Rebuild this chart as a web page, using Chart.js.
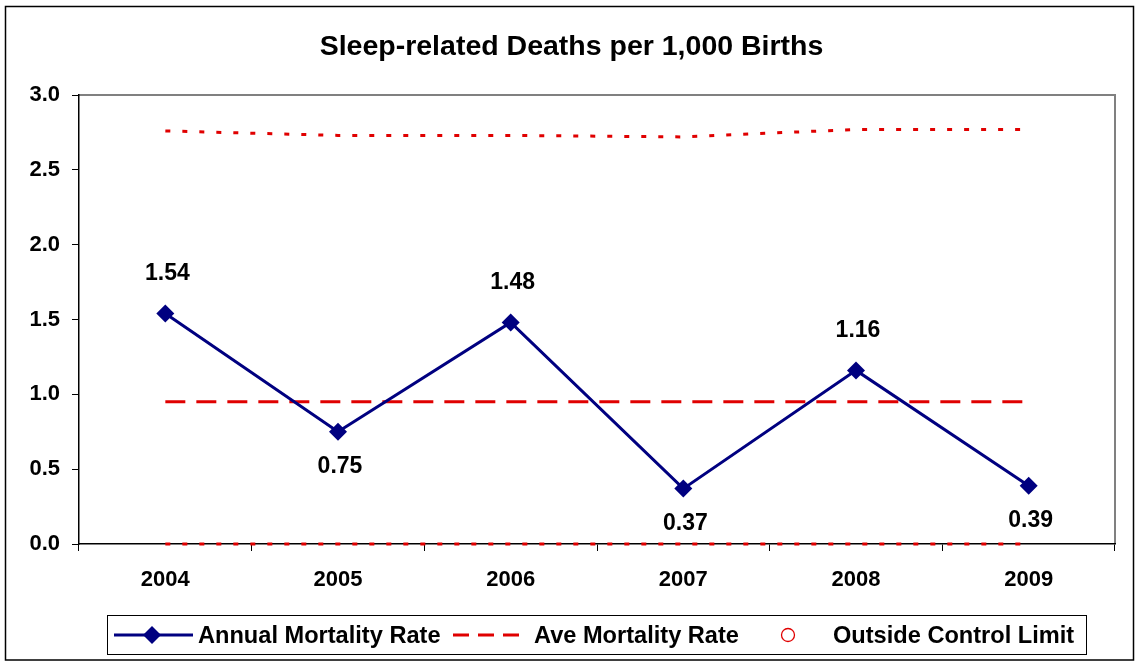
<!DOCTYPE html>
<html>
<head>
<meta charset="utf-8">
<script src="https://cdn.jsdelivr.net/npm/chart.js@4.4.1/dist/chart.umd.min.js"></script>
<style>
  html, body { margin: 0; padding: 0; background: #fff; }
  #wrap { width: 1135px; height: 665px; position: relative; }
</style>
</head>
<body>
<div id="wrap"><canvas id="c" width="1135" height="665"></canvas></div>
<script>
// ---- data ----
const years = ['2004', '2005', '2006', '2007', '2008', '2009'];
const annualRate = [1.54, 0.75, 1.48, 0.37, 1.16, 0.39];
const aveRate = [0.95, 0.95, 0.95, 0.95, 0.95, 0.95];
const upperLimit = [2.76, 2.73, 2.73, 2.72, 2.77, 2.77];
const lowerLimit = [0, 0, 0, 0, 0, 0];
const outsideLimit = [null, null, null, null, null, null];
const yMin = 0, yMax = 3.0, yStep = 0.5;
const titleText = 'Sleep-related Deaths per 1,000 Births';
const legendLabels = ['Annual Mortality Rate', 'Ave Mortality Rate', 'Outside Control Limit'];

const FONT = '"Liberation Sans", Arial, sans-serif';
const NAVY = '#000080';
const RED = '#E00000';

const decor = {
  id: 'decor',
  beforeDraw(chart) {
    const ctx = chart.ctx;
    ctx.save();
    ctx.fillStyle = '#fff';
    ctx.fillRect(0, 0, chart.width, chart.height);
    // outer border
    ctx.strokeStyle = '#000';
    ctx.lineWidth = 1.5;
    ctx.strokeRect(5.5, 6.5, 1128, 653.5);
    // title
    ctx.fillStyle = '#000';
    ctx.font = 'bold 28.5px ' + FONT;
    ctx.textAlign = 'center';
    ctx.textBaseline = 'middle';
    ctx.fillText(titleText, 571.5, 47);
    // plot area gray border (top & right)
    const a = chart.chartArea;
    ctx.strokeStyle = '#808080';
    ctx.lineWidth = 2;
    ctx.beginPath();
    ctx.moveTo(a.left, a.top);
    ctx.lineTo(a.right, a.top);
    ctx.lineTo(a.right, a.bottom);
    ctx.stroke();
    ctx.restore();
  },
  afterDraw(chart) {
    const ctx = chart.ctx;
    ctx.save();
    // data labels
    const meta = chart.getDatasetMeta(0);
    ctx.font = 'bold 23px ' + FONT;
    ctx.fillStyle = '#000';
    ctx.textAlign = 'center';
    ctx.textBaseline = 'middle';
    meta.data.forEach((pt, i) => {
      const v = annualRate[i];
      const above = v > aveRate[i];
      ctx.fillText(v.toFixed(2), pt.x + 2, above ? pt.y - 40 : pt.y + 35);
    });
    // legend
    const ly = 635;
    ctx.strokeStyle = '#000';
    ctx.lineWidth = 1;
    ctx.strokeRect(107.5, 615.5, 979, 39);
    // item 1
    ctx.strokeStyle = NAVY;
    ctx.lineWidth = 3;
    ctx.beginPath(); ctx.moveTo(114, ly); ctx.lineTo(193, ly); ctx.stroke();
    ctx.fillStyle = NAVY;
    ctx.beginPath();
    ctx.moveTo(152, ly - 9); ctx.lineTo(161, ly); ctx.lineTo(152, ly + 9); ctx.lineTo(143, ly);
    ctx.closePath(); ctx.fill();
    // item 2
    ctx.strokeStyle = RED;
    ctx.lineWidth = 3;
    ctx.setLineDash([16, 9]);
    ctx.beginPath(); ctx.moveTo(453, ly); ctx.lineTo(527, ly); ctx.stroke();
    ctx.setLineDash([]);
    // item 3
    ctx.lineWidth = 1.3;
    ctx.beginPath(); ctx.arc(788, ly, 6.5, 0, Math.PI * 2); ctx.stroke();
    // texts
    ctx.fillStyle = '#000';
    ctx.font = 'bold 23.6px ' + FONT;
    ctx.textAlign = 'left';
    ctx.textBaseline = 'middle';
    ctx.fillText(legendLabels[0], 198, ly + 1);
    ctx.fillText(legendLabels[1], 534, ly + 1);
    ctx.fillText(legendLabels[2], 833, ly + 1);
    ctx.restore();
  }
};

new Chart(document.getElementById('c'), {
  type: 'line',
  data: {
    labels: years,
    datasets: [
      {
        label: legendLabels[0], data: annualRate, order: 0,
        borderColor: NAVY, backgroundColor: NAVY, borderWidth: 3,
        pointStyle: 'rectRot', pointRadius: 9, pointHoverRadius: 9,
        pointBorderWidth: 0, tension: 0, fill: false
      },
      {
        label: legendLabels[1], data: aveRate, order: 1,
        borderColor: RED, borderWidth: 3, borderDash: [20, 11],
        pointRadius: 0, tension: 0, fill: false
      },
      {
        label: 'UCL', data: upperLimit, order: 2,
        borderColor: RED, borderWidth: 3, borderDash: [5, 12],
        pointRadius: 0, tension: 0, fill: false
      },
      {
        label: 'LCL', data: lowerLimit, order: 3,
        borderColor: RED, borderWidth: 3, borderDash: [5, 12],
        pointRadius: 0, tension: 0, fill: false, clip: false
      },
      {
        label: legendLabels[2], data: outsideLimit, order: 4,
        borderColor: RED, showLine: false, pointStyle: 'circle',
        pointRadius: 6, backgroundColor: 'transparent'
      }
    ]
  },
  options: {
    responsive: false,
    animation: false,
    events: [],
    layout: { padding: { left: 0, top: 95, right: 20, bottom: 0 } },
    plugins: { legend: { display: false }, title: { display: false }, tooltip: { enabled: false } },
    scales: {
      x: {
        type: 'category', offset: true,
        grid: { offset: true, drawOnChartArea: false, drawTicks: true, tickLength: 7, color: '#000', lineWidth: 1 },
        border: { color: '#000', width: 1.5 },
        ticks: { font: { size: 22, weight: 'bold', family: FONT }, color: '#000', padding: 16, maxRotation: 0 },
        afterFit(s) { s.height = 121; }
      },
      y: {
        min: yMin, max: yMax,
        grid: { drawOnChartArea: false, drawTicks: true, tickLength: 7, color: '#000', lineWidth: 1 },
        border: { color: '#000', width: 1.5 },
        ticks: { stepSize: yStep, font: { size: 22, weight: 'bold', family: FONT }, color: '#000', padding: 12,
                 callback: v => Number(v).toFixed(1) },
        afterFit(s) { s.width = 79; }
      }
    }
  },
  plugins: [decor]
});
</script>
</body>
</html>
